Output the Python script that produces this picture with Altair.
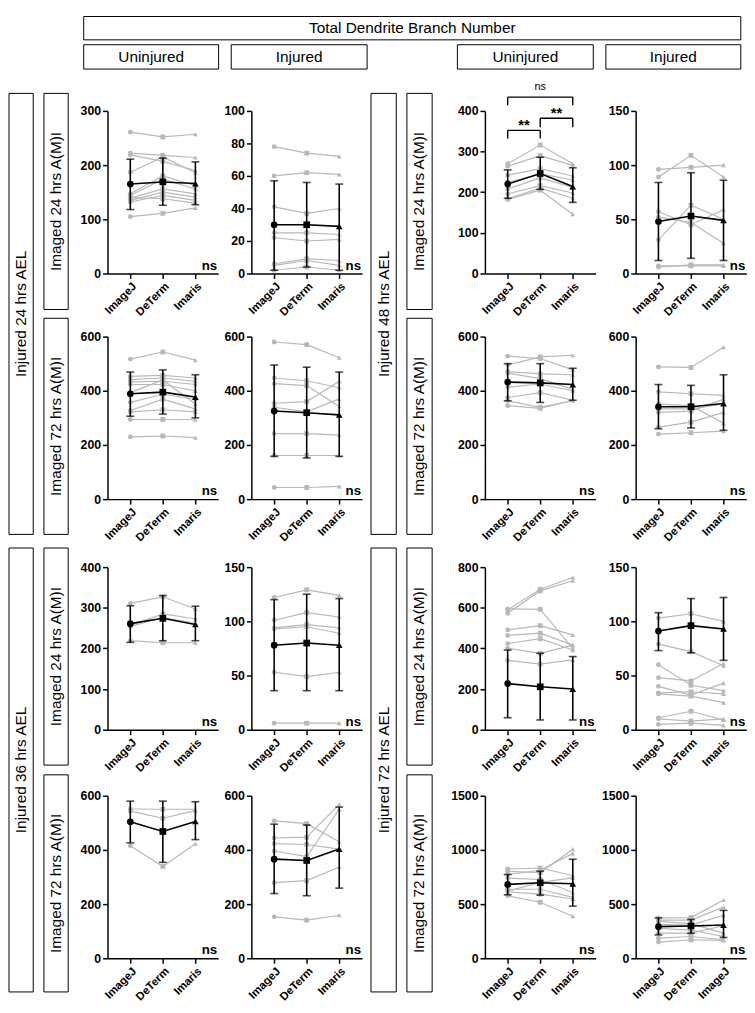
import altair as alt
import pandas as pd

# ---------------- data ----------------
METHODS = ["ImageJ", "DeTerm", "Imaris"]

# Row 1: Injured 24 hrs AEL / Imaged 24 hrs A(M)I
A_LINES = [[261, 252, 257], [222, 218, 214], [219, 207, 190], [187, 215, 186], [147, 180, 162],
           [144, 174, 156], [139, 156, 147], [135, 150, 141], [132, 144, 135], [140, 138, 130],
           [105, 111, 121]]
A_MEAN = [165, 169, 166]
A_LO = [118, 126, 127]
A_HI = [211, 213, 206]
A_TICKS = [0, 100, 200, 300]

B_LINES = [[78, 74, 72], [60, 62, 61], [41, 37, 40], [25, 25, 24], [22, 20, 21],
           [6, 9, 8], [5, 8, 5], [2, 4, 2]]
B_MEAN = [30, 30, 29]
B_LO = [2, 4, 2]
B_HI = [57, 56, 55]
B_TICKS = [0, 20, 40, 60, 80, 100]

# Row 1 right: Injured 48 hrs AEL / Imaged 24 hrs A(M)I
C_LINES = [[270, 316, 270], [264, 290, 266], [242, 258, 240], [224, 245, 230], [208, 235, 212],
           [196, 216, 198], [184, 210, 185], [182, 205, 146]]
C_MEAN = [220, 246, 214]
C_LO = [185, 207, 175]
C_HI = [255, 286, 260]
C_TICKS = [0, 100, 200, 300, 400]
C_BR_FROM = ["ImageJ", "DeTerm", "ImageJ"]
C_BR_TO = ["DeTerm", "Imaris", "Imaris"]
C_BR_TOP = [352, 382, 434]
C_BR_LEG = [332, 360, 414]
C_BR_TEXT = ["**", "**", "ns"]
C_BR_TEXT_Y = [353, 383, 451]

D_LINES = [[96, 98, 100], [89, 109, 89], [57, 45, 59], [31, 63, 50], [52, 47, 28],
           [6, 8, 8], [7, 7, 7]]
D_MEAN = [48, 53, 49]
D_LO = [12, 14, 12]
D_HI = [84, 93, 86]
D_TICKS = [0, 50, 100, 150]

# Row 2: Imaged 72 hrs A(M)I
E_LINES = [[517, 543, 513], [453, 457, 447], [441, 447, 435], [433, 435, 423], [423, 423, 399],
           [393, 440, 351], [357, 387, 369], [327, 369, 333], [322, 330, 322], [294, 294, 293],
           [230, 233, 227]]
E_MEAN = [389, 395, 377]
E_LO = [306, 314, 300]
E_HI = [469, 477, 459]

F_LINES = [[580, 570, 522], [447, 437, 411], [426, 419, 342], [354, 360, 435], [339, 322, 370],
           [242, 242, 236], [161, 161, 161], [43, 43, 47]]
F_MEAN = [325, 319, 311]
F_LO = [158, 152, 158]
F_HI = [495, 487, 469]

G_LINES = [[528, 519, 477], [495, 525, 531], [471, 462, 459], [465, 445, 405], [413, 425, 400],
           [375, 393, 365], [363, 339, 363], [345, 335, 365]]
G_MEAN = [432, 429, 423]
G_LO = [363, 357, 365]
G_HI = [500, 500, 483]

H_LINES = [[488, 486, 561], [396, 389, 383], [351, 345, 280], [333, 333, 351], [320, 325, 369],
           [266, 284, 320], [240, 245, 251]]
H_MEAN = [341, 341, 353]
H_LO = [260, 263, 254]
H_HI = [423, 420, 459]
T600 = [0, 200, 400, 600]

# Row 3: Injured 36 / 72 hrs AEL, Imaged 24 hrs A(M)I
I_LINES = [[311, 327, 297], [256, 285, 273], [254, 276, 262], [219, 214, 214]]
I_MEAN = [261, 274, 259]
I_LO = [215, 219, 219]
I_HI = [305, 330, 304]
I_TICKS = [0, 100, 200, 300, 400]

J_LINES = [[122, 129, 124], [101, 108, 104], [94, 97, 94], [93, 95, 89], [53, 49, 53], [6, 6, 6]]
J_MEAN = [78, 80, 78]
J_LO = [36, 36, 36]
J_HI = [120, 125, 121]
T150 = [0, 50, 100, 150]

K_LINES = [[590, 691, 749], [573, 683, 733], [595, 592, 400], [491, 512, 467], [464, 475, 416],
           [424, 448, 392], [400, 376, 416], [341, 323, 344]]
K_MEAN = [227, 211, 200]
K_LO = [59, 48, 48]
K_HI = [392, 376, 360]
K_TICKS = [0, 200, 400, 600, 800]

L_LINES = [[103, 107, 100], [79, 72, 59], [60, 41, 36], [48, 45, 61], [40, 32, 43], [34, 35, 33],
           [33, 31, 25], [11, 17, 9], [10, 8, 10], [5, 6, 4]]
L_MEAN = [91, 96, 93]
L_LO = [73, 71, 64]
L_HI = [108, 121, 122]

# Row 4: Imaged 72 hrs A(M)I
M_LINES = [[551, 550, 550], [543, 517, 545], [415, 339, 423]]
M_MEAN = [504, 468, 505]
M_LO = [426, 354, 438]
M_HI = [580, 580, 578]

N_LINES = [[507, 497, 430], [444, 447, 568], [423, 420, 403], [396, 375, 550], [279, 287, 337],
           [153, 141, 159]]
N_MEAN = [366, 361, 403]
N_LO = [239, 231, 259]
N_HI = [495, 492, 558]

O_LINES = [[824, 833, 764], [803, 790, 1007], [773, 812, 968], [740, 727, 607], [637, 637, 562],
           [613, 592, 547], [577, 517, 388], [620, 700, 742]]
O_MEAN = [682, 697, 688]
O_LO = [586, 583, 481]
O_HI = [773, 803, 914]
T1500 = [0, 500, 1000, 1500]

P_LINES = [[373, 376, 538], [352, 352, 472], [340, 320, 232], [313, 307, 397], [277, 260, 201],
           [232, 232, 300], [186, 201, 171], [150, 171, 165]]
P_MEAN = [292, 298, 307]
P_LO = [216, 231, 192]
P_HI = [373, 358, 442]
P_THIRD_LABEL = "ImageJ"

TITLE = "Total Dendrite Branch Number"
HEADERS = ["Uninjured", "Injured", "Uninjured", "Injured"]
OUTER_LABELS = ["Injured 24 hrs AEL", "Injured 36 hrs AEL", "Injured 48 hrs AEL", "Injured 72 hrs AEL"]
INNER_LABELS = ["Imaged 24 hrs A(M)I", "Imaged 72 hrs A(M)I"]

# ---------------- layout (reference pixel frame) ----------------
SX = 0.985
SY = 0.988
Y0 = 100  # top of the first plot row in reference frame
FONT = "Liberation Sans"
GRAY = "#b8b8b8"
COL_W = [36, 64, 114, 33, 114, 12, 37, 76, 114, 40, 114]
ROW_H = [231, 236, 234, 167]
PANEL_W = 114
PANEL_H = 167
PAD = 0.7

TITLE_BOX = (77, 3, 754, 27)
HEADER_BOXES = [(77, 32, 216, 57), (229, 32, 369, 57), (462, 32, 602, 57), (615, 32, 754, 57)]
OUTER_BOXES = [(0, 82, 25, 535), (0, 549, 25, 1005), (373, 82, 399, 535), (373, 549, 399, 1005)]
INNER_BOXES = [(36, 82, 61, 304), (36, 313, 61, 535), (36, 549, 61, 772), (36, 782, 61, 1005),
               (410, 82, 436, 304), (410, 313, 436, 535), (410, 549, 436, 772), (410, 782, 436, 1005)]


def px(v):
    return v * SX


def py(v):
    return (v - Y0) * SY


def decor(w, h):
    boxes = [TITLE_BOX] + HEADER_BOXES + OUTER_BOXES + INNER_BOXES
    bdf = pd.DataFrame([{"x1": px(a), "y1": py(b), "x2": px(c), "y2": py(d)} for a, b, c, d in boxes])
    htxt = [(TITLE, TITLE_BOX)] + list(zip(HEADERS, HEADER_BOXES))
    hdf = pd.DataFrame([{"t": t, "x": px((b[0] + b[2]) / 2), "y": py((b[1] + b[3]) / 2)} for t, b in htxt])
    vtxt = list(zip(OUTER_LABELS, OUTER_BOXES)) + list(zip(INNER_LABELS * 4, INNER_BOXES))
    vdf = pd.DataFrame([{"t": t, "x": px((b[0] + b[2]) / 2), "y": py((b[1] + b[3]) / 2)} for t, b in vtxt])
    rects = alt.Chart(bdf).mark_rect(fill="white", fillOpacity=0, stroke="black", strokeWidth=1).encode(
        x=alt.X("x1:Q", scale=None, axis=None), x2="x2:Q",
        y=alt.Y("y1:Q", scale=None, axis=None), y2="y2:Q")
    ht = alt.Chart(hdf).mark_text(font=FONT, fontSize=15.6, color="black", baseline="middle").encode(
        x=alt.X("x:Q", scale=None, axis=None), y=alt.Y("y:Q", scale=None, axis=None), text="t:N")
    vt = alt.Chart(vdf).mark_text(font=FONT, fontSize=15.6, color="black", angle=270, baseline="middle").encode(
        x=alt.X("x:Q", scale=None, axis=None), y=alt.Y("y:Q", scale=None, axis=None), text="t:N")
    return alt.layer(rects, ht, vt).properties(width=w, height=h)


def blank(w, h):
    return alt.Chart(alt.Data(values=[{"a": 0}])).mark_point(opacity=0, size=1).encode(
        x=alt.value(0), y=alt.value(0)).properties(width=w, height=h)


def panel(lines, mean, lo, hi, ymax, ticks, third_label=None, brackets=False):
    W = PANEL_W * SX
    H = PANEL_H * SY
    ind = pd.DataFrame([{"id": i, "method": m, "value": v}
                        for i, ln in enumerate(lines) for m, v in zip(METHODS, ln)])
    summ = pd.DataFrame({"method": METHODS, "mean": mean, "lo": lo, "hi": hi})
    ax_kw = dict(title=None, labelAngle=315, labelFontSize=11.5)
    if third_label:
        ax_kw["labelExpr"] = "datum.label == 'Imaris' ? '%s' : datum.label" % third_label
    x = alt.X("method:N", sort=METHODS,
              scale=alt.Scale(type="point", domain=METHODS, padding=PAD),
              axis=alt.Axis(**ax_kw))
    ysc = alt.Scale(domain=[0, ymax], nice=False, zero=True)
    yax = alt.Axis(title=None, values=ticks, format="d")

    def Y(f):
        return alt.Y(f, type="quantitative", scale=ysc, axis=yax)

    shape = alt.Shape("method:N", scale=alt.Scale(domain=METHODS, range=["circle", "square", "triangle-up"]),
                      legend=None)
    base = alt.Chart(ind).encode(x=x, y=Y("value"))
    glines = base.mark_line(color=GRAY, strokeWidth=1.2).encode(detail="id:N")
    gpts = base.mark_point(filled=True, color=GRAY, size=24, opacity=1).encode(shape=shape)
    sb = alt.Chart(summ).encode(x=x)
    err = sb.mark_rule(color="black", strokeWidth=1.6).encode(y=Y("lo"), y2="hi:Q")
    cap1 = sb.mark_tick(color="black", thickness=1.6, size=8).encode(y=Y("lo"))
    cap2 = sb.mark_tick(color="black", thickness=1.6, size=8).encode(y=Y("hi"))
    mline = sb.mark_line(color="black", strokeWidth=1.6).encode(y=Y("mean"))
    mpts = sb.mark_point(filled=True, color="black", size=46, opacity=1).encode(y=Y("mean"), shape=shape)
    layers = [glines, gpts, err, cap1, cap2, mline, mpts]
    if brackets:
        bdf = pd.DataFrame({"a": C_BR_FROM, "b": C_BR_TO, "top": C_BR_TOP, "leg": C_BR_LEG,
                            "t": C_BR_TEXT, "ty": C_BR_TEXT_Y})
        bx = alt.X("a:N", sort=METHODS, scale=alt.Scale(type="point", domain=METHODS, padding=PAD),
                   axis=alt.Axis(**ax_kw))
        bxb = alt.X("b:N", sort=METHODS, scale=alt.Scale(type="point", domain=METHODS, padding=PAD),
                    axis=alt.Axis(**ax_kw))
        bc = alt.Chart(bdf)
        layers.append(bc.mark_rule(color="black", strokeWidth=1.4).encode(x=bx, x2="b:N", y=Y("top")))
        layers.append(bc.mark_rule(color="black", strokeWidth=1.4).encode(x=bx, y=Y("top"), y2="leg:Q"))
        layers.append(bc.mark_rule(color="black", strokeWidth=1.4).encode(x=bxb, y=Y("top"), y2="leg:Q"))
        step = W / (len(METHODS) - 1 + 2 * PAD)
        for i in range(len(C_BR_TEXT)):
            ia = METHODS.index(C_BR_FROM[i])
            ib = METHODS.index(C_BR_TO[i])
            one = bdf.iloc[[i]]
            star = C_BR_TEXT[i] == "**"
            layers.append(alt.Chart(one).mark_text(
                font=FONT, fontSize=15 if star else 11, fontWeight="bold" if star else "normal",
                baseline="alphabetic", dx=(ib - ia) / 2 * step, color="black").encode(
                x=bx, y=Y("ty"), text="t:N"))
    else:
        layers.append(alt.Chart(alt.Data(values=[{"t": "ns"}])).mark_text(
            font=FONT, fontSize=13.5, fontWeight="bold", align="right", baseline="alphabetic",
            color="black").encode(x=alt.value(W - 1), y=alt.value(H - 4), text="t:N"))
    return alt.layer(*layers).properties(width=W, height=H)


LU = [panel(A_LINES, A_MEAN, A_LO, A_HI, 300, A_TICKS),
      panel(E_LINES, E_MEAN, E_LO, E_HI, 600, T600),
      panel(I_LINES, I_MEAN, I_LO, I_HI, 400, I_TICKS),
      panel(M_LINES, M_MEAN, M_LO, M_HI, 600, T600)]
LI = [panel(B_LINES, B_MEAN, B_LO, B_HI, 100, B_TICKS),
      panel(F_LINES, F_MEAN, F_LO, F_HI, 600, T600),
      panel(J_LINES, J_MEAN, J_LO, J_HI, 150, T150),
      panel(N_LINES, N_MEAN, N_LO, N_HI, 600, T600)]
RU = [panel(C_LINES, C_MEAN, C_LO, C_HI, 400, C_TICKS, brackets=True),
      panel(G_LINES, G_MEAN, G_LO, G_HI, 600, T600),
      panel(K_LINES, K_MEAN, K_LO, K_HI, 800, K_TICKS),
      panel(O_LINES, O_MEAN, O_LO, O_HI, 1500, T1500)]
RI = [panel(D_LINES, D_MEAN, D_LO, D_HI, 150, T150),
      panel(H_LINES, H_MEAN, H_LO, H_HI, 600, T600),
      panel(L_LINES, L_MEAN, L_LO, L_HI, 150, T150),
      panel(P_LINES, P_MEAN, P_LO, P_HI, 1500, T1500, third_label=P_THIRD_LABEL)]

cells = []
for r in range(4):
    h = ROW_H[r] * SY
    cells.append(decor(px(COL_W[0]), h) if r == 0 else blank(px(COL_W[0]), h))
    cells.append(blank(px(COL_W[1]), h))
    cells.append(LU[r])
    cells.append(blank(px(COL_W[3]), h))
    cells.append(LI[r])
    cells.append(blank(px(COL_W[5]), h))
    cells.append(blank(px(COL_W[6]), h))
    cells.append(blank(px(COL_W[7]), h))
    cells.append(RU[r])
    cells.append(blank(px(COL_W[9]), h))
    cells.append(RI[r])

chart = alt.concat(*cells, columns=11, spacing=0, bounds="flush").properties(
    padding=0
).configure_view(stroke=None).configure_axis(
    labelFont=FONT, labelFontWeight="bold", labelColor="black", labelFontSize=12.5,
    domainColor="black", tickColor="black", domainWidth=1.5, tickWidth=1.5, tickSize=5,
    grid=False, labelPadding=2
).configure_axisX(labelFontSize=11.5)

chart.save("out.html", embed_options={"renderer": "svg", "actions": False})
